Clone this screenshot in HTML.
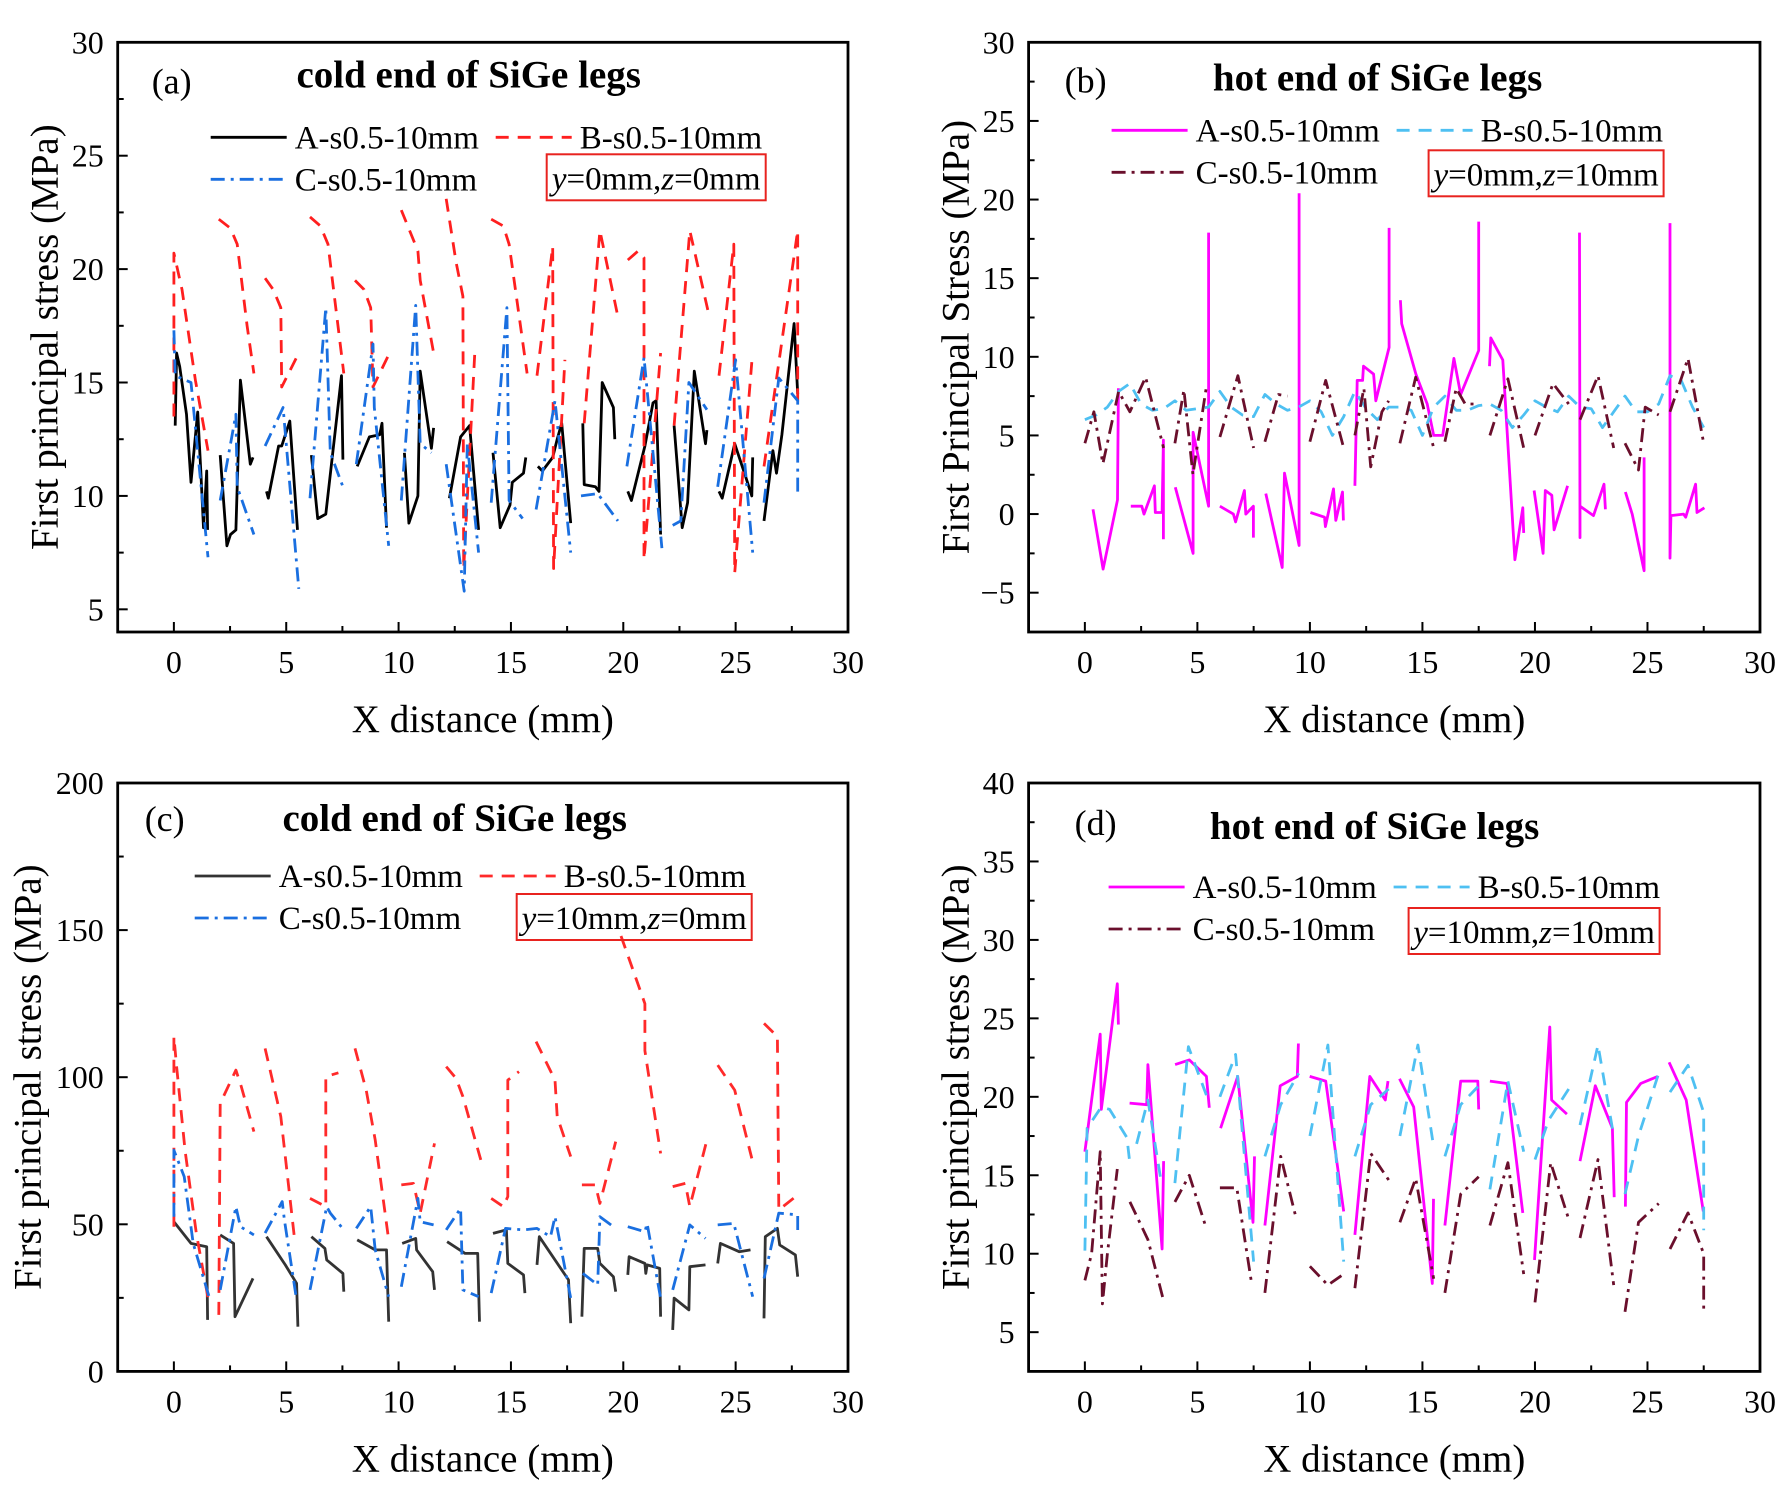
<!DOCTYPE html>
<html><head><meta charset="utf-8"><style>
html,body{margin:0;padding:0;background:#fff}
svg{display:block}
text{font-family:"Liberation Serif",serif;fill:#000}
</style></head><body>
<svg id="fig" width="1792" height="1492" viewBox="0 0 1792 1492" xmlns="http://www.w3.org/2000/svg"></svg>
<script>
// ---------- Panel (a) data ----------
const aAx=[0.06,0.12,0.26,0.56,0.76,1.06,1.2,1.32,1.46,1.5,null,2.06,2.36,2.52,2.76,2.96,3.4,3.52,null,4.12,4.2,4.66,4.8,5.16,5.5,null,6.12,6.4,6.76,7.46,7.52,null,8.16,8.7,9.16,9.26,9.46,null,10.26,10.46,10.86,10.96,11.46,11.56,null,12.26,12.76,13.16,13.56,null,14.2,14.52,14.96,15.06,15.56,15.66,null,16.2,16.4,16.86,17.06,17.26,17.66,null,18.2,18.26,18.76,18.92,19.06,19.56,19.62,null,20.2,20.36,20.96,21.32,21.46,21.66,null,22.26,22.62,22.86,23.16,23.66,23.72,null,24.26,24.4,24.96,25.46,25.72,25.76,null,26.26,26.66,26.82,27.06,27.6,27.76];
const aAy=[13.1,16.3,15.7,13.6,10.6,13.7,11.1,8.6,11.1,8.5,null,11.8,7.8,8.3,8.5,15.1,11.4,11.7,null,10.2,9.9,12.2,12.2,13.3,8.5,null,11.8,9.0,9.2,15.3,11.6,null,11.3,12.6,12.7,13.2,8.6,null,11.9,8.8,10.0,15.5,12.1,13.0,null,9.9,12.6,13.1,8.5,null,11.9,8.6,9.6,10.6,11.0,11.7,null,11.3,11.1,11.7,12.5,13.2,8.8,null,13.2,10.5,10.4,10.2,15.0,13.9,12.5,null,10.2,9.8,12.2,14.1,14.2,8.3,null,13.1,8.6,9.7,15.5,12.3,12.9,null,10.2,9.9,12.3,10.8,10.0,11.7,null,8.9,12.0,11.0,12.7,17.6,14.5];
const aBx=[0,0,0.36,0.96,1.52,null,2.0,2.52,2.82,3.26,3.56,null,4.06,4.42,4.76,4.8,5.56,null,6.06,6.52,6.86,7.56,null,8.06,8.46,8.76,8.86,9.6,null,10.12,10.86,10.96,11.6,null,12.12,12.56,12.86,12.9,13.4,null,14.12,14.66,14.92,15.72,null,16.16,16.86,16.9,17.4,null,18.26,18.96,19.76,null,20.2,20.66,20.92,20.92,21.66,null,22.26,22.96,23.76,null,24.26,24.92,24.96,25.72,null,26.26,27.76,27.76];
const aBy=[13.5,20.7,19.1,15.1,12.0,null,22.2,21.8,21.1,17.5,15.4,null,19.6,19.1,18.3,14.8,16.3,null,22.3,21.9,21.1,15.4,null,19.5,19.1,18.3,14.8,16.3,null,22.6,20.8,19.5,16.1,null,23.1,20.3,18.8,6.8,16.5,null,22.2,21.9,21.1,15.4,null,15.3,21.0,6.8,16.0,null,13.2,21.7,17.9,null,20.4,20.8,20.5,7.2,16.3,null,13.1,21.7,18.2,null,15.3,21.1,6.6,15.9,null,11.3,21.7,13.9];
const aCx=[0,0.06,0.76,1.52,null,2.06,2.76,2.82,3.56,null,4.06,4.86,5.56,null,6.06,6.76,6.96,7.56,null,8.12,8.86,8.92,9.56,null,10.12,10.76,10.96,11.46,null,12.12,12.92,13.06,13.56,null,14.12,14.82,14.92,15.52,null,16.12,16.96,17.66,null,18.12,18.86,19.76,null,20.16,20.92,21.16,21.72,null,22.2,22.56,22.92,23.72,null,24.2,25.0,25.76,null,26.26,26.92,27.76,27.76];
const aCy=[17.3,15.3,15.0,7.3,null,9.8,13.6,10.4,8.3,null,12.2,13.9,5.9,null,9.9,18.3,11.9,10.3,null,11.4,16.7,13.9,7.8,null,9.8,18.4,12.3,11.9,null,11.4,5.8,12.3,7.5,null,9.7,18.3,9.8,9.0,null,9.4,14.2,7.5,null,10.0,10.1,8.9,null,11.3,16.1,13.6,7.7,null,8.7,8.9,15.0,13.8,null,10.4,16.0,7.5,null,9.7,15.2,14.2,10.0];
// ---------- Panel (b) data ----------
const bAx=[0.36,0.81,1.45,1.49,null,2.04,2.53,2.63,3.09,3.13,3.43,3.49,3.49,null,4.02,4.81,4.81,5.5,5.5,null,6.0,6.6,6.7,7.09,7.15,7.49,7.49,null,8.04,8.77,8.87,9.52,9.52,null,10.02,10.65,10.69,11.05,11.15,11.45,11.49,null,12.0,12.1,12.34,12.38,12.83,12.93,13.52,13.52,null,14.02,14.08,14.71,15.21,15.5,15.9,16.4,16.7,17.5,17.5,null,17.98,18.04,18.57,19.11,19.46,19.5,null,19.96,20.36,20.46,20.75,20.85,21.45,null,21.98,22.0,22.0,22.6,23.07,23.13,null,24.02,24.32,24.85,24.85,null,26.0,26.0,26.04,26.6,26.7,27.14,27.2,27.53];
const bAy=[0.3,-3.5,0.9,8.0,null,0.5,0.5,0.0,1.8,0.1,0.1,4.7,-1.6,null,1.7,-2.5,5.2,0.5,17.9,null,0.5,0.0,-0.5,1.5,0.0,0.5,-1.5,null,1.3,-3.4,2.6,-2.0,20.4,null,0.1,-0.2,-0.8,1.6,-0.4,1.4,-0.4,null,1.8,8.5,8.5,9.4,8.9,7.2,10.6,18.2,null,13.6,12.1,8.9,7.0,5.0,5.0,9.9,7.6,10.4,18.6,null,9.4,11.2,9.8,-2.9,0.4,-1.2,null,1.5,-2.5,1.5,1.2,-1.0,1.8,null,17.9,-1.5,0.5,-0.1,1.9,0.3,null,1.4,0.0,-3.6,3.6,null,18.5,-2.8,-0.1,0.0,-0.2,1.9,0.1,0.4];
const bBx=[0,0.5,1.0,1.5,2.0,2.5,3.0,3.5,4.0,4.5,5.0,5.5,6.0,6.5,7.0,7.5,8.0,8.5,9.0,9.5,10.0,10.5,11.0,11.5,12.0,12.5,13.0,13.5,14.0,14.5,15.0,15.5,16.0,16.5,17.0,17.5,18.0,18.5,19.0,19.5,20.0,20.5,21.0,21.5,22.0,22.5,23.0,23.5,24.0,24.5,25.0,25.5,26.0,26.5,27.0,27.5];
const bBy=[6.0,6.3,6.8,7.8,8.3,7.0,6.6,6.7,7.2,6.6,6.7,6.8,7.8,6.8,6.3,6.2,7.6,7.0,6.6,6.8,7.2,6.5,5.0,6.2,7.8,6.7,6.0,6.8,6.8,6.6,5.0,6.8,7.5,6.6,6.6,6.9,7.0,6.6,5.5,6.3,7.2,6.8,6.5,7.5,6.8,6.7,5.5,6.5,7.5,6.5,6.5,7.0,8.8,8.5,6.8,5.5];
const bCx=[0,0.4,0.8,1.5,2.0,2.7,3.5,null,4.0,4.4,4.8,5.4,null,6.0,6.8,7.5,null,8.0,8.6,9.0,null,10.0,10.7,11.5,null,12.0,12.4,12.7,13.2,13.5,null,14.0,14.7,15.5,null,16.0,16.5,16.9,17.5,null,18.0,18.8,19.5,null,20.0,20.8,21.5,null,22.0,22.8,23.5,null,24.0,24.6,24.9,25.5,null,26.0,26.8,27.5];
const bCy=[4.5,6.5,3.2,7.8,6.5,8.7,4.2,null,4.5,7.9,2.5,8.1,null,4.9,8.8,4.2,null,4.6,7.6,7.5,null,4.6,8.5,4.2,null,5.0,8.0,3.0,6.5,7.2,null,4.5,8.7,4.2,null,4.6,8.0,7.0,7.0,null,5.0,8.6,4.2,null,5.0,8.3,7.0,null,6.0,8.8,4.2,null,4.5,2.8,6.8,6.3,null,6.5,9.9,4.5];
// ---------- Panel (c) data ----------
const cAx=[0,0.76,1.06,1.46,1.5,null,2.06,2.66,2.72,3.52,null,4.12,4.96,5.46,5.52,null,6.12,6.72,6.8,7.52,7.56,null,8.16,8.96,9.46,9.56,null,10.16,10.76,10.8,11.52,11.6,null,12.16,12.96,13.52,13.6,null,14.2,14.8,14.86,15.56,15.62,null,16.16,16.26,17.56,17.66,null,18.16,18.26,18.86,18.96,19.56,19.66,null,20.2,20.26,20.96,21.0,21.06,21.62,21.66,null,22.2,22.26,22.92,22.96,23.66,null,24.2,24.32,25.16,25.66,null,26.26,26.32,26.86,26.96,27.66,27.76];
const cAy=[50.9,43.5,43,42.4,17.5,null,46.4,43.5,18.6,31.6,null,45.8,36.2,29.9,15.2,null,45.8,41.8,37.9,33.3,27.1,null,44.7,41.3,41.3,16.9,null,43.5,45.2,41.3,33.9,27.7,null,44.1,40.1,40.1,16.9,null,46.9,48.1,36.7,32.8,26.6,null,36.2,45.8,31.1,16.4,null,18.6,41.8,41.8,36.7,32.2,27.1,null,32.8,39.0,36.7,33.3,36.2,35.0,18.6,null,14.1,24.9,20.9,35.6,36.2,null,36.7,43.5,40.7,41.3,null,18.0,45.8,48.6,43.0,39.6,32.2];
const cBx=[0,0,0.12,0.5,1.0,1.52,null,2.0,2.06,2.76,3.0,3.56,null,4.06,4.76,5.36,null,6.06,6.76,6.76,7.32,null,8.06,8.56,8.96,9.56,null,10.12,10.66,10.96,11.6,null,12.12,12.56,12.86,13.66,null,14.12,14.66,14.86,14.86,15.36,null,16.12,16.96,17.06,17.66,null,18.16,18.76,18.96,19.66,null,19.9,20.96,20.96,21.66,null,22.2,22.76,22.96,23.76,null,24.2,24.96,25.72,null,26.26,26.86,26.92,27.76];
const cBy=[49.2,113.8,103.6,75,47,25,null,19.2,91.1,102.4,96.8,81.5,null,109.8,86.6,45.8,null,58.8,56,100.2,101.5,null,109.8,95.6,78.7,44.7,null,63.4,63.9,53.8,77.5,null,103.6,99.6,93.4,71.9,null,58.8,56,59.4,99.0,101.9,null,112.1,99.0,86.6,73.0,null,63.4,63.4,57.1,78.1,null,148,125,109,74.1,null,62.8,63.9,56,79.8,null,104.1,95.6,72.4,null,118.3,113.8,54.9,60];
const cCx=[0,0,0.46,0.86,1.56,null,2.06,2.76,2.96,3.56,null,4.06,4.82,4.92,5.46,null,6.06,6.8,6.96,7.56,null,8.12,8.76,8.96,9.56,null,10.12,10.86,10.96,11.56,null,12.12,12.76,12.86,13.56,null,14.12,14.76,15.56,16.16,16.76,16.96,17.66,null,18.2,18.86,18.96,19.66,null,20.2,20.96,21.06,21.66,null,22.2,22.96,23.66,null,24.2,24.92,25.76,null,26.26,26.92,27.76,27.76];
const cCy=[52.6,75.2,66.2,43.5,25.6,null,27.7,56,49.2,46.4,null,47,57.7,51.5,24.3,null,27.7,56,53.8,48.1,null,48.6,56,41.3,25.4,null,28.8,58.8,50.9,49.8,null,48.1,55.4,27.7,25.4,null,26.6,48.6,48.1,48.6,45.8,52.6,24.9,null,33.3,29.4,52.6,48.6,null,49.2,47.5,50.3,24.9,null,27.7,49.8,45.2,null,49.8,50.3,25.4,null,31.6,53.8,53.2,47.5];
// ---------- Panel (d) data ----------
const dAx=[0,0.68,0.73,1.44,1.49,null,1.99,2.75,2.8,3.43,3.5,null,4.01,4.64,5.4,5.53,null,6.03,6.79,7.47,7.54,null,8.0,8.68,9.44,9.49,null,9.99,10.7,11.5,null,12.0,12.66,13.35,13.47,null,13.98,14.61,15.44,15.49,null,16.0,16.7,17.46,17.5,null,18.0,18.76,19.46,null,19.98,20.66,20.74,21.42,null,22.0,22.68,23.44,23.52,null,24.02,24.07,24.7,25.46,null,25.96,26.72,27.48];
const dAy=[16.5,24.0,19.2,27.2,24.6,null,19.6,19.5,22.05,10.3,15.9,null,22.05,22.35,21.3,19.3,null,18.0,21.3,12.0,16.2,null,11.8,20.7,21.3,23.4,null,21.3,21.0,12.7,null,11.2,21.3,19.8,21.0,null,21.15,19.35,8.1,13.5,null,11.8,21.0,21.0,19.2,null,21.0,20.85,12.6,null,9.6,24.45,19.8,18.9,null,15.9,20.7,18.0,13.6,null,13.0,19.65,20.85,21.3,null,22.2,19.8,12.7];
const dBx=[0,0.1,0.73,1.1,1.87,1.99,null,2.3,2.8,3.4,null,4.0,4.6,5.4,null,6.0,6.7,7.5,null,8.0,8.7,9.5,null,10.0,10.8,11.5,null,12.0,12.7,13.5,null,14.0,14.8,15.5,null,16.0,16.7,17.5,null,18.0,18.8,19.5,null,20.0,20.6,21.5,null,22.0,22.8,23.5,null,24.0,24.6,25.5,null,26.0,26.8,27.5,27.5];
const dBy=[10.2,18.0,19.35,19.2,17.4,15.9,null,17,19.8,14.5,null,14.5,23.2,20.1,null,20,22.7,9.5,null,16.2,19.5,21.5,null,17.5,23.3,9.5,null,16.2,19.5,20.5,null,17.5,23.3,16.8,null,16.2,19.5,20.7,null,14.1,21.0,16.5,null,16.0,18.5,20.5,null,18.2,23.3,17.5,null,13.8,17.5,21.5,null,20.3,22.0,19.0,11.5];
const dCx=[0,0.3,0.68,0.78,1.0,1.44,null,2.0,2.8,3.5,null,4.0,4.64,5.4,null,6.0,6.75,7.4,null,8.0,8.7,9.4,null,10.0,10.8,11.4,null,12.0,12.7,13.5,null,14.0,14.7,15.5,null,16.0,16.7,17.5,null,18.0,18.8,19.5,null,20.0,20.7,21.5,null,22.0,22.8,23.5,null,24.0,24.6,25.5,null,26.0,26.8,27.5,27.5];
const dCy=[8.3,10,16.5,6.8,10,15.4,null,13.3,10.9,7.0,null,13.3,15.0,11.6,null,14.2,14.2,8.2,null,7.5,16.2,12.2,null,9.2,8.0,8.6,null,7.8,16.4,14.7,null,12.0,14.8,8.4,null,7.5,13.8,14.9,null,11.8,15.8,8.7,null,6.9,15.8,12.2,null,11.0,16.0,8.0,null,6.3,12.0,13.2,null,10.3,12.6,10.0,6.2];
// ---------- tick labels ----------
const xTicks=[0,5,10,15,20,25,30];
const aYTicks=[5,10,15,20,25,30];
const bYTicks=[-5,0,5,10,15,20,25,30];
const cYTicks=[0,50,100,150,200];
const dYTicks=[5,10,15,20,25,30,35,40];

const NS='http://www.w3.org/2000/svg';
const svg=document.getElementById('fig');
function mk(tag,attrs,parent){const e=document.createElementNS(NS,tag);for(const k in attrs)e.setAttribute(k,attrs[k]);(parent||svg).appendChild(e);return e;}

function panel(o){
  const g=mk('g',{});
  
  
  const X=v=>o.L+(v-o.x0)/(o.x1-o.x0)*(o.R-o.L);
  const Y=v=>o.B-(v-o.y0)/(o.y1-o.y0)*(o.B-o.T);
  o.series.forEach(s=>{
    let d='',pen=false;
    for(let i=0;i<s.xs.length;i++){
      if(s.xs[i]===null||s.ys[i]===null){pen=false;continue;}
      d+=(pen?'L':'M')+X(s.xs[i]).toFixed(1)+','+Y(s.ys[i]).toFixed(1);pen=true;
    }
    const p=mk('path',{d:d,fill:'none',stroke:s.color,'stroke-width':s.w||2.8,'stroke-dasharray':s.dash||'none','stroke-linejoin':'round'},g);
    
    
  });
  const fr=mk('rect',{x:o.L,y:o.T,width:o.R-o.L,height:o.B-o.T,fill:'none',stroke:'#000','stroke-width':2.8},g);
  
  
  for(let v=-2.5;v<=30.01;v+=2.5){
    const major=Math.abs(v%5)<0.01;
    mk('line',{x1:X(v),x2:X(v),y1:o.B,y2:o.B-(major?10:6),stroke:'#000','stroke-width':2},g);
  }
  xTicks.forEach(v=>{
    const t=mk('text',{x:X(v),y:o.B+41,'text-anchor':'middle','font-size':32},g);
    t.textContent=v;
    
    
  });
  const st=o.yTicks[1]-o.yTicks[0];
  for(let v=o.yTicks[0]-st/2;v<=o.y1+0.001;v+=st/2){
    if(v<o.y0)continue;
    const major=Math.abs(((v-o.yTicks[0])/st)%1)<0.01;
    mk('line',{x1:o.L,x2:o.L+(major?10:6),y1:Y(v),y2:Y(v),stroke:'#000','stroke-width':2},g);
  }
  o.yTicks.forEach(v=>{
    const t=mk('text',{x:o.L-14,y:Y(v)+11,'text-anchor':'end','font-size':32},g);
    t.textContent=v<0?'\u2212'+(-v):v;
    
    
  });
  const xt=mk('text',{x:(o.L+o.R)/2,y:o.B+100,'text-anchor':'middle','font-size':39},g);
  xt.textContent='X distance (mm)';
  
  
  const yt=mk('text',{x:0,y:0,'text-anchor':'middle','font-size':39,transform:`translate(${o.L-o.yto},${(o.T+o.B)/2}) rotate(-90)`},g);
  yt.textContent=o.ytitle;
  
  
  const pl=mk('text',{x:o.L+o.lab[0],y:o.T+o.lab[1],'font-size':36},g);
  pl.textContent='('+o.id+')';
  
  
  const ti=mk('text',{x:o.L+o.tit[0],y:o.T+o.tit[1],'text-anchor':'middle','font-size':39,'font-weight':'bold'},g);
  ti.textContent=o.title;
  
  
  const lg=mk('g',{},g);
  
  
  const lx=o.L+o.leg[0], ly=o.T+o.leg[1];
  const pos=[[0,0],[285,0],[0,42]];
  o.series.forEach((s,i)=>{
    const px=lx+pos[i][0], py=ly+pos[i][1];
    const ln=mk('line',{x1:px,x2:px+76,y1:py,y2:py,stroke:s.color,'stroke-width':s.w||2.8,'stroke-dasharray':s.dash||'none'},lg);
    
    
    const tx=mk('text',{x:px+84,y:py+11,'font-size':33},lg);
    tx.textContent=s.key+'-s0.5-10mm';
    
    
  });
  const bx=o.L+o.box[0], by=o.T+o.box[1];
  const br=mk('rect',{x:bx,y:by,width:o.box[2],height:46,fill:'none',stroke:'#e8231f','stroke-width':2},g);
  
  
  const bt=mk('text',{x:bx+o.box[2]/2,y:by+35,'text-anchor':'middle','font-size':33},g);
  bt.innerHTML='<tspan font-style="italic">y</tspan>='+o.cond[0]+',<tspan font-style="italic">z</tspan>='+o.cond[1];
  
  
}

const DASH='13,9', DD='14,6,3,6';
panel({id:'a',L:117.7,R:848,T:42.3,B:632,x0:-2.5,x1:30,y0:4,y1:30,yTicks:aYTicks,yto:60,
  ytitle:'First principal stress (MPa)',title:'cold end of SiGe legs',lab:[34,51],tit:[351,45],
  leg:[93,95],box:[429,112,219],cond:['0mm','0mm'],
  series:[{key:'A',xs:aAx,ys:aAy,color:'#000'},{key:'B',xs:aBx,ys:aBy,color:'#ff1f1f',dash:DASH},{key:'C',xs:aCx,ys:aCy,color:'#1a6fe0',dash:DD}]});
panel({id:'b',L:1028.6,R:1760,T:42.3,B:632,x0:-2.5,x1:30,y0:-7.5,y1:30,yTicks:bYTicks,yto:60,
  ytitle:'First Principal Stress (MPa)',title:'hot end of SiGe legs',lab:[36,50],tit:[349,48],
  leg:[83,88],box:[400,108,235],cond:['0mm','10mm'],
  series:[{key:'A',xs:bAx,ys:bAy,color:'#ff00ff'},{key:'B',xs:bBx,ys:bBy,color:'#4ec0f2',dash:DASH},{key:'C',xs:bCx,ys:bCy,color:'#6a0f2c',dash:DD}]});
panel({id:'c',L:117.7,R:848,T:783,B:1371.4,x0:-2.5,x1:30,y0:0,y1:200,yTicks:cYTicks,yto:77,
  ytitle:'First principal stress (MPa)',title:'cold end of SiGe legs',lab:[27,48],tit:[337,48],
  leg:[77,93],box:[399,111,235],cond:['10mm','0mm'],
  series:[{key:'A',xs:cAx,ys:cAy,color:'#333'},{key:'B',xs:cBx,ys:cBy,color:'#ff2a2a',dash:DASH},{key:'C',xs:cCx,ys:cCy,color:'#1a6fe0',dash:DD}]});
panel({id:'d',L:1028.6,R:1760,T:783,B:1371.4,x0:-2.5,x1:30,y0:2.5,y1:40,yTicks:dYTicks,yto:60,
  ytitle:'First principal stress (MPa)',title:'hot end of SiGe legs',lab:[46,52],tit:[346,56],
  leg:[80,104],box:[380,125,251],cond:['10mm','10mm'],
  series:[{key:'A',xs:dAx,ys:dAy,color:'#ff00ff'},{key:'B',xs:dBx,ys:dBy,color:'#4ec0f2',dash:DASH},{key:'C',xs:dCx,ys:dCy,color:'#6a0f2c',dash:DD}]});
</script>
</body></html>
